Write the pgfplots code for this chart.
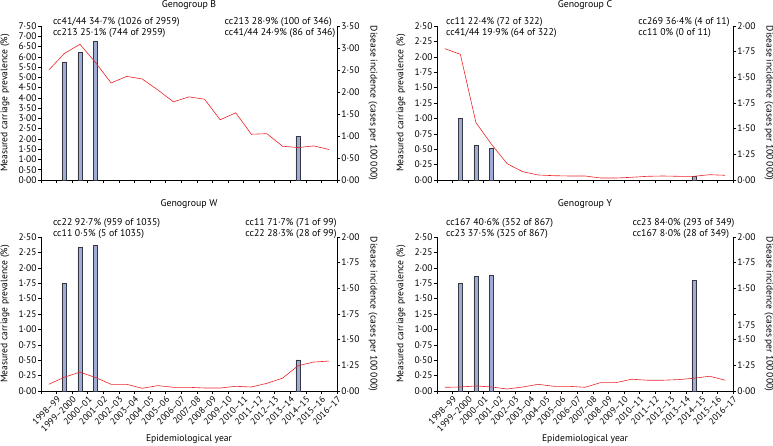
\documentclass[border=0pt]{standalone}
\usepackage{fontspec}
\setmainfont{PT Sans}
\usepackage{pgfplots}
\pgfplotsset{compat=1.18}
\definecolor{barfill}{RGB}{158,172,216}
\definecolor{barline}{RGB}{55,55,65}
\definecolor{incred}{RGB}{236,36,40}

\pgfplotsset{
  dotfmt/.style={/pgf/number format/.cd, fixed, fixed zerofill, precision=2, set decimal separator={·}, assume math mode=true},
  base/.style={scale only axis, width=296pt, height=154pt, xmin=-0.5, xmax=18.5, ymin=0,
    tick align=outside, major tick length=3pt,
    axis line style={-, black, line width=0.6pt}, tick style={black, line width=0.5pt},
    ticklabel style={font=\fontsize{9.5}{10}\selectfont, inner sep=1.2pt},
    label style={font=\fontsize{9.6}{11}\selectfont},
    clip=false},
  leftax/.style={base, axis x line*=bottom, axis y line*=left,
    xtick={0.5,1.5,...,18.5}, extra x ticks={-0.5}, extra x tick labels={},
    yticklabel style={dotfmt},
    ylabel={Measured carriage prevalence (\%)},
    ylabel style={at={(axis description cs:-0.1216,0.5)}, anchor=center}},
  rightax/.style={base, axis x line=none, axis y line*=right,
    ylabel={Disease incidence (cases per 100\,000)},
    ylabel style={at={(axis description cs:1.1216,0.5)}, anchor=center, rotate=180}},
  notop/.style={xticklabels={}},
  yearlabels/.style={xticklabels={1998–99,1999–2000,2000–01,2001–02,2002–03,2003–04,2004–05,2005–06,2006–07,2007–08,2008–09,2009–10,2010–11,2011–12,2012–13,2013–14,2014–15,2015–16,2016–17},
    xticklabel style={rotate=45, anchor=north east, inner sep=1pt, font=\fontsize{9}{10}\selectfont},
    xlabel={Epidemiological year},
    xlabel style={at={(axis description cs:0.5,-0.315)}, anchor=center}},
  oddright/.style={ymax=2, ytick={0,0.33333,0.66667,1,1.33333,1.66667,2}},
  bars/.style={ybar, bar width=0.28, fill=barfill, draw=barline, line width=0.5pt},
  incline/.style={incred, line width=0.6pt, mark=none},
}
\newcommand{\annfont}{\fontsize{9.8}{11.2}\selectfont}
\newcommand{\titfont}{\fontsize{9.8}{11}\selectfont}

\begin{document}
\begin{tikzpicture}
\path[use as bounding box] (0,0) rectangle (773pt,445pt);

% ---------------- Genogroup B ----------------
\begin{axis}[leftax, notop, at={(41pt,265pt)}, anchor=south west, ymax=7.5, ytick={0,0.5,...,7.5}]
\addplot[bars] coordinates {(1,5.75) (2,6.20) (3,6.78) (16,2.14)};
\node[font=\titfont] at (rel axis cs:0.5,1.134) {Genogroup B};
\node[font=\annfont, anchor=north west, align=left, inner sep=0pt] at (rel axis cs:0.04,1.055) {cc41/44 34·7\% (1026 of 2959)\\cc213 25·1\% (744 of 2959)};
\node[font=\annfont, anchor=north west, align=left, inner sep=0pt] at (rel axis cs:0.62,1.055) {cc213 28·9\% (100 of 346)\\cc41/44 24·9\% (86 of 346)};
\end{axis}
\begin{axis}[rightax, at={(41pt,265pt)}, anchor=south west, ymax=3.5, ytick={0,0.5,...,3.5}, yticklabel style={dotfmt}]
\addplot[incline] table {
0 2.50
1 2.875
2 3.085
3 2.67
4 2.205
5 2.355
6 2.295
7 2.047
8 1.776
9 1.889
10 1.836
11 1.37
12 1.528
13 1.04
14 1.053
15 0.768
16 0.737
17 0.775
18 0.692
};
\end{axis}

% ---------------- Genogroup C ----------------
\begin{axis}[leftax, notop, at={(437pt,265pt)}, anchor=south west, ymax=2.5, ytick={0,0.25,...,2.5}]
\addplot[bars] coordinates {(1,1.00) (2,0.563) (3,0.514) (16,0.054)};
\node[font=\titfont] at (rel axis cs:0.5,1.134) {Genogroup C};
\node[font=\annfont, anchor=north west, align=left, inner sep=0pt] at (rel axis cs:0.03,1.055) {cc11 22·4\% (72 of 322)\\cc41/44 19·9\% (64 of 322)};
\node[font=\annfont, anchor=north west, align=left, inner sep=0pt] at (rel axis cs:0.68,1.055) {cc269 36·4\% (4 of 11)\\cc11 0\% (0 of 11)};
\end{axis}
\begin{axis}[rightax, oddright, at={(437pt,265pt)}, anchor=south west, yticklabels={0·00,1·25,1·50,1·75,1·50,1·75,2·00}]
\addplot[incline] table {
0 1.706
1 1.632
2 0.745
3 0.463
4 0.212
5 0.108
6 0.065
7 0.056
8 0.052
9 0.052
10 0.026
11 0.026
12 0.035
13 0.048
14 0.052
15 0.048
16 0.048
17 0.069
18 0.061
};
\end{axis}

% ---------------- Genogroup W ----------------
\begin{axis}[leftax, yearlabels, at={(41pt,54pt)}, anchor=south west, ymax=2.5, ytick={0,0.25,...,2.5}]
\addplot[bars] coordinates {(1,1.747) (2,2.336) (3,2.363) (16,0.505)};
\node[font=\titfont] at (rel axis cs:0.5,1.212) {Genogroup W};
\node[font=\annfont, anchor=north west, align=left, inner sep=0pt] at (rel axis cs:0.04,1.12) {cc22 92·7\% (959 of 1035)\\cc11 0·5\% (5 of 1035)};
\node[font=\annfont, anchor=north west, align=left, inner sep=0pt] at (rel axis cs:0.69,1.12) {cc11 71·7\% (71 of 99)\\cc22 28·3\% (28 of 99)};
\end{axis}
\begin{axis}[rightax, oddright, at={(41pt,54pt)}, anchor=south west, yticklabels={0·00,1·25,1·50,1·75,1·50,1·75,2·00}]
\addplot[incline] table {
0 0.087
1 0.179
2 0.245
3 0.175
4 0.087
5 0.087
6 0.035
7 0.07
8 0.048
9 0.048
10 0.039
11 0.039
12 0.061
13 0.052
14 0.1
15 0.166
16 0.328
17 0.376
18 0.389
};
\end{axis}

% ---------------- Genogroup Y ----------------
\begin{axis}[leftax, yearlabels, at={(437pt,54pt)}, anchor=south west, ymax=2.5, ytick={0,0.25,...,2.5}]
\addplot[bars] coordinates {(1,1.747) (2,1.856) (3,1.872) (16,1.796)};
\node[font=\titfont] at (rel axis cs:0.5,1.212) {Genogroup Y};
\node[font=\annfont, anchor=north west, align=left, inner sep=0pt] at (rel axis cs:0.03,1.12) {cc167 40·6\% (352 of 867)\\cc23 37·5\% (325 of 867)};
\node[font=\annfont, anchor=north west, align=left, inner sep=0pt] at (rel axis cs:0.66,1.12) {cc23 84·0\% (293 of 349)\\cc167 8·0\% (28 of 349)};
\end{axis}
\begin{axis}[rightax, oddright, at={(437pt,54pt)}, anchor=south west, yticklabels={0·00,1·25,1·50,,1·50,1·75,2·00}]
\addplot[incline] table {
0 0.048
1 0.052
2 0.066
3 0.052
4 0.026
5 0.052
6 0.087
7 0.061
8 0.061
9 0.048
10 0.109
11 0.109
12 0.153
13 0.14
14 0.14
15 0.148
16 0.166
17 0.192
18 0.14
};
\node[font=\fontsize{9.5}{10}\selectfont, anchor=west, inner sep=1.2pt, xshift=3pt] at (rel axis cs:1,0.4305) {1·75};
\end{axis}
\end{tikzpicture}
\end{document}
